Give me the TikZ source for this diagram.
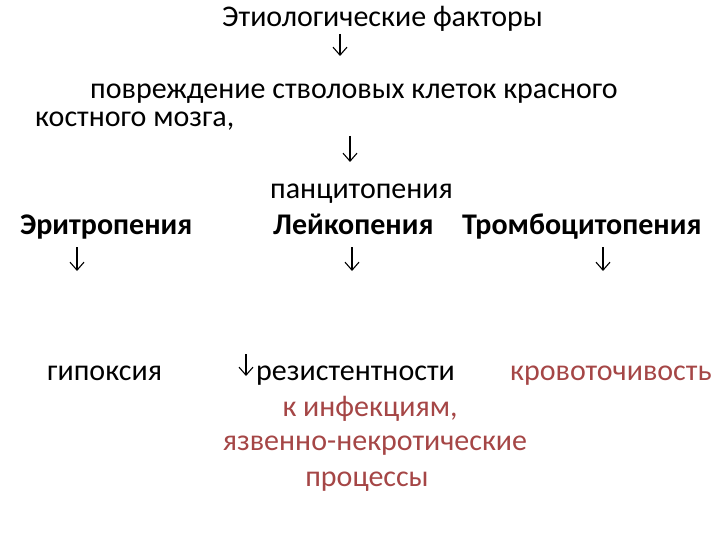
\documentclass[tikz,border=0pt]{standalone}
\usepackage{fontspec}
\setmainfont{Carlito}
\usetikzlibrary{arrows.meta}
\definecolor{redtxt}{RGB}{165,70,70}
\tikzset{
  txt/.style={inner sep=0pt, anchor=base west, font=\fontsize{30}{36}\selectfont},
  btxt/.style={txt, font=\fontsize{30}{36}\selectfont\bfseries},
  ctxt/.style={inner sep=0pt, anchor=base, font=\fontsize{30}{36}\selectfont, text=redtxt},
  arr/.style={line width=1.1pt, -{Straight Barb[length=8pt,width=14pt,line width=1.1pt]}}
}
\begin{document}
\begin{tikzpicture}[x=1pt,y=-1pt]
\useasboundingbox (0,0) rectangle (720,540);
\node[txt] (etio) at (222,27) {Этиологические факторы};
\node[txt] (povr) at (90,99) {повреждение стволовых клеток красного};
\node[txt] (kost) at (35,127) {костного мозга,};
\node[txt] (panc) at (270,199) {панцитопения};
\node[btxt] (erit) at (20,234) {Эритропения};
\node[btxt] (leik) at (273,234) {Лейкопения};
\node[btxt] (tromb) at (462,234) {Тромбоцитопения};
\node[txt] (gip) at (47,380) {гипоксия};
\node[txt] (rez) at (256,380) {резистентности};
\node[txt, text=redtxt] (krov) at (510,380) {кровоточивость};
\node[ctxt] (inf) at (370,416) {к инфекциям,};
\node[ctxt] (yazv) at (375,450) {язвенно-некротические};
\node[ctxt] (proc) at (367,486) {процессы};
\coordinate (a1s) at (340,34); \coordinate (a1e) at (340,56);
\coordinate (a2s) at (350,136); \coordinate (a2e) at (350,162);
\coordinate (a3s) at (77,247); \coordinate (a3e) at (77,271);
\coordinate (a4s) at (352,247); \coordinate (a4e) at (352,271);
\coordinate (a5s) at (603,247); \coordinate (a5e) at (603,271);
\coordinate (a6s) at (246,354); \coordinate (a6e) at (246,376);
\draw[arr] (a1s) -- (a1e);
\draw[arr] (a2s) -- (a2e);
\draw[arr] (a3s) -- (a3e);
\draw[arr] (a4s) -- (a4e);
\draw[arr] (a5s) -- (a5e);
\draw[arr] (a6s) -- (a6e);
\end{tikzpicture}
\end{document}
